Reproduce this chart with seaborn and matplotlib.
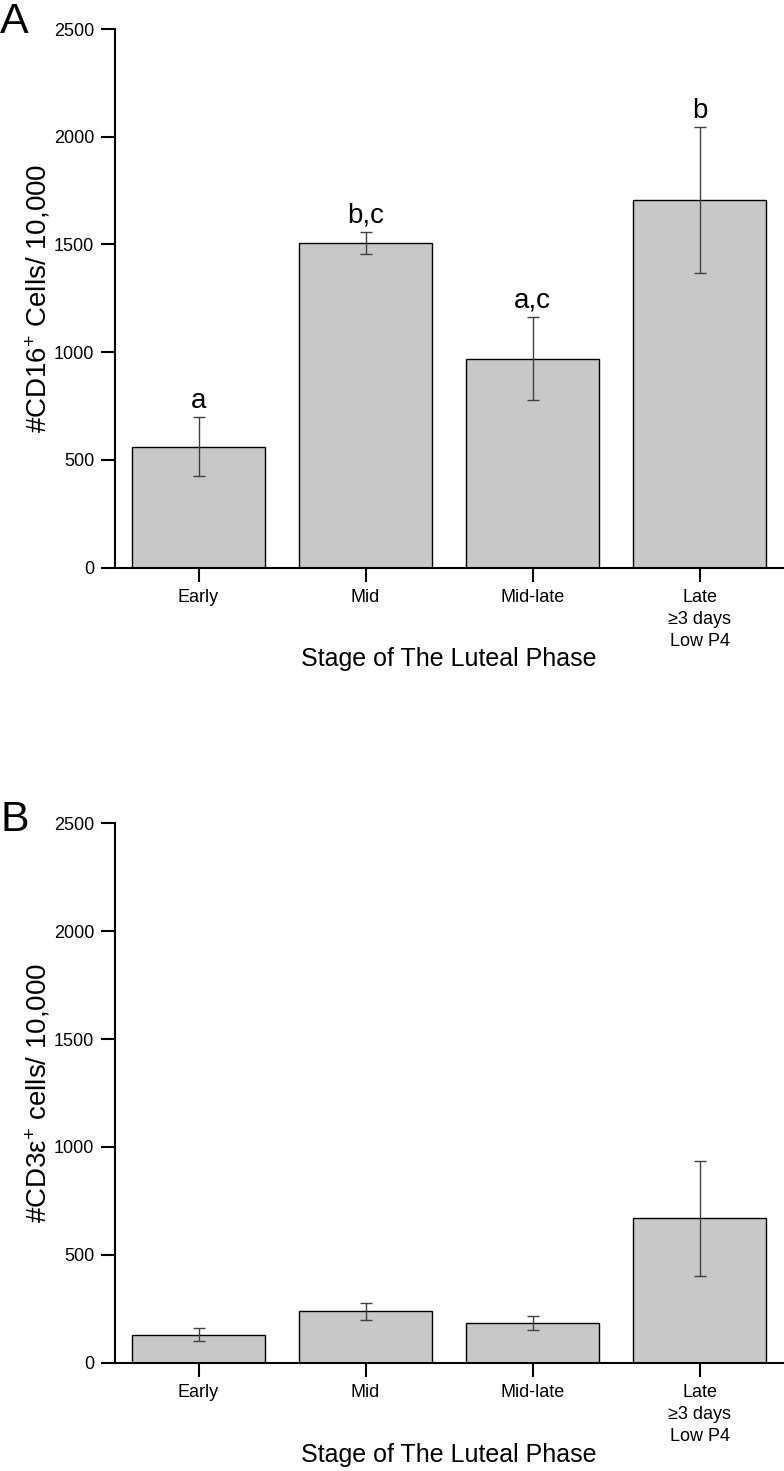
import matplotlib
matplotlib.use("Agg")
import matplotlib.pyplot as plt
import seaborn as sns
import pandas as pd

# Values (means and SEM)
stages = ["Early", "Mid", "Mid-late", "Late\n\u22653 days\nLow P4"]
cd16_mean = [561, 1508, 970, 1706]
cd16_sem = [137, 50, 194, 337]
cd16_letters = ["a", "b,c", "a,c", "b"]
cd3_mean = [130, 238, 183, 669]
cd3_sem = [30, 41, 33, 267]
y_ticks = [0, 500, 1000, 1500, 2000, 2500]

sns.set_style("ticks")
plt.rcParams["font.family"] = ["Liberation Sans", "DejaVu Sans"]
plt.rcParams["mathtext.fontset"] = "custom"
plt.rcParams["mathtext.rm"] = "Liberation Sans"
plt.rcParams["mathtext.it"] = "Liberation Sans"
for k in ["text.color", "axes.labelcolor", "xtick.color", "ytick.color", "axes.edgecolor"]:
    plt.rcParams[k] = "black"

W, H = 784, 1471
fig = plt.figure(figsize=(W / 100, H / 100), dpi=100)

def px_axes(left, top, right, bottom):
    return fig.add_axes([left / W, 1 - bottom / H, (right - left) / W, (bottom - top) / H])

ax_a = px_axes(115, 29, 783, 567.7)
ax_b = px_axes(115, 823.3, 783, 1362.7)


def draw_panel(ax, means, sems, ylabel, letters=None):
    df = pd.DataFrame({"stage": stages, "value": means})
    sns.barplot(data=df, x="stage", y="value", color="#c8c8c8", saturation=1,
                edgecolor="black", linewidth=1.0, width=0.8, ax=ax)
    ax.errorbar(range(len(stages)), means, yerr=sems, fmt="none",
                ecolor="#404040", elinewidth=1.0, capsize=4, capthick=1.0)
    if letters is not None:
        for i, (m, s, lab) in enumerate(zip(means, sems, letters)):
            ax.text(i, m + s + 45, lab, ha="center", va="baseline", fontsize=20)
    ax.set_xlim(-0.5, len(stages) - 0.5)
    ax.set_ylim(0, 2500)
    ax.set_yticks(y_ticks)
    ax.set_xlabel("Stage of The Luteal Phase", fontsize=18, va="top")
    ax.xaxis.set_label_coords(0.5, -0.148)
    ax.set_ylabel(ylabel, fontsize=20)
    ax.yaxis.set_label_coords(-0.093, 0.5)
    ax.tick_params(axis="both", length=10, width=1.5, direction="out", labelsize=13, pad=5)
    for lbl in ax.get_xticklabels():
        lbl.set_linespacing(1.4)
    for sp in ["left", "bottom"]:
        ax.spines[sp].set_linewidth(1.5)
    sns.despine(ax=ax)


draw_panel(ax_a, cd16_mean, cd16_sem, r"#CD16$^{+}$ Cells/ 10,000", cd16_letters)
draw_panel(ax_b, cd3_mean, cd3_sem, "#CD3\u03b5$^{+}$ cells/ 10,000")

fig.text(0, 1 - 33 / H, "A", fontsize=31, ha="left", va="baseline")
fig.text(0, 1 - 831 / H, "B", fontsize=31, ha="left", va="baseline")

fig.savefig("out.png", dpi=100)
